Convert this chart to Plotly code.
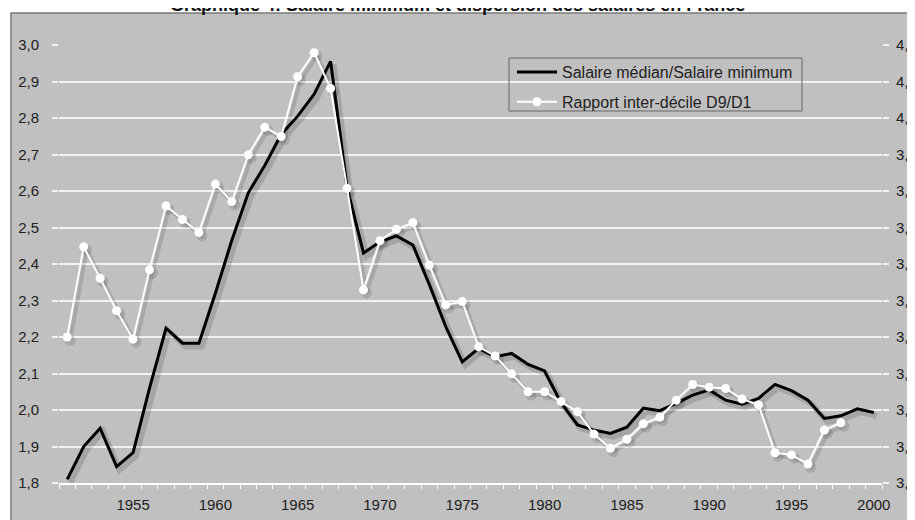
import plotly.graph_objects as go

years_black = list(range(1951, 2001))
median_min = [1.81, 1.90, 1.95, 1.845, 1.883, 2.06, 2.224, 2.183, 2.183, 2.32,
              2.465, 2.595, 2.67, 2.755, 2.805, 2.865, 2.955, 2.61, 2.43, 2.461,
              2.477, 2.452, 2.344, 2.228, 2.132, 2.169, 2.146, 2.155, 2.125, 2.107,
              2.02, 1.959, 1.945, 1.936, 1.953, 2.005, 1.998, 2.018, 2.041, 2.055,
              2.027, 2.016, 2.032, 2.07, 2.053, 2.027, 1.977, 1.984, 2.003, 1.993]

years_white = list(range(1951, 1999))
d9_d1 = [3.40, 3.647, 3.561, 3.472, 3.394, 3.584, 3.759, 3.722, 3.686, 3.819,
         3.771, 3.899, 3.975, 3.949, 4.113, 4.179, 4.081, 3.807, 3.529, 3.664,
         3.695, 3.713, 3.597, 3.488, 3.497, 3.373, 3.348, 3.299, 3.25, 3.25,
         3.223, 3.195, 3.134, 3.095, 3.12, 3.162, 3.18, 3.227, 3.27, 3.262,
         3.259, 3.23, 3.214, 3.083, 3.077, 3.052, 3.145, 3.165]

left_ticks = [1.8, 1.9, 2.0, 2.1, 2.2, 2.3, 2.4, 2.5, 2.6, 2.7, 2.8, 2.9, 3.0]
right_ticks = [3.0, 3.1, 3.2, 3.3, 3.4, 3.5, 3.6, 3.7, 3.8, 3.9, 4.0, 4.1, 4.2]
x_labels = [1955, 1960, 1965, 1970, 1975, 1980, 1985, 1990, 1995, 2000]

title_text = "Graphique 4: Salaire minimum et dispersion des salaires en France"
name_black = "Salaire médian/Salaire minimum"
name_white = "Rapport inter-décile D9/D1"

FONT = "Liberation Sans, Arial, sans-serif"
GREY = "#c0c0c0"
OFF = 8  # the page body margin shifts the figure by this many pixels
W, H = 915 - OFF, 520 - OFF
L, R, T, B = 59 - OFF, 33, 45 - OFF, 37
PW, PH = W - L - R, H - T - B

def px_x(x):  # page pixel -> paper coordinate
    return (x - OFF - L) / PW

def px_y(y):
    return (H - B - (y - OFF)) / PH

def fmt(v):
    return f"{v:.1f}".replace(".", ",")

fig = go.Figure()

# soft drop shadows (derived from the data, slightly offset)
sx, sy = 0.18, -0.009
fig.add_trace(go.Scatter(x=[x + sx for x in years_black], y=[v + sy for v in median_min],
                         mode="lines", line=dict(color="rgba(0,0,0,0.14)", width=6),
                         showlegend=False, hoverinfo="skip", yaxis="y"))
fig.add_trace(go.Scatter(x=[x + sx for x in years_white], y=[v + sy for v in d9_d1],
                         mode="lines+markers", line=dict(color="rgba(0,0,0,0.12)", width=4),
                         marker=dict(size=11, color="rgba(0,0,0,0.12)"),
                         showlegend=False, hoverinfo="skip", yaxis="y2"))

fig.add_trace(go.Scatter(x=years_black, y=median_min, mode="lines", name=name_black,
                         line=dict(color="black", width=3), yaxis="y",
                         legendgroup="a"))
fig.add_trace(go.Scatter(x=years_white, y=d9_d1, mode="lines+markers", name=name_white,
                         line=dict(color="white", width=2),
                         marker=dict(size=9, color="white"), yaxis="y2",
                         legendgroup="b"))

minor_vals = [y - 0.5 for y in years_black] + [years_black[-1] + 0.5]

fig.update_layout(
    width=W, height=H,
    margin=dict(l=L, r=R, t=T, b=B, autoexpand=False),
    paper_bgcolor="white",
    plot_bgcolor=GREY,
    font=dict(family=FONT, size=15, color="#222"),
    showlegend=True,
    legend=dict(x=px_x(512), y=px_y(55),
                xanchor="left", yanchor="top",
                bgcolor="rgba(0,0,0,0)", borderwidth=0,
                font=dict(family=FONT, size=16, color="#222"),
                tracegroupgap=6, itemwidth=40),
    xaxis=dict(range=[1950.5, 2000.5], tickmode="array", tickvals=x_labels,
               ticktext=[str(v) for v in x_labels], ticks="", showgrid=False,
               showline=True, linecolor="white", linewidth=2, zeroline=False,
               ticklabelstandoff=7, automargin=False,
               minor=dict(tickmode="array", tickvals=minor_vals, ticks="outside",
                          ticklen=4, tickcolor="white", tickwidth=1, showgrid=False)),
    yaxis=dict(range=[1.8, 3.0], tickmode="array", tickvals=left_ticks,
               ticktext=[fmt(v) for v in left_ticks], showgrid=True,
               gridcolor="#f2f2f2", gridwidth=2, zeroline=False,
               ticks="outside", ticklen=6, tickcolor="#f2f2f2", tickwidth=2,
               ticklabelstandoff=10, automargin=False),
    yaxis2=dict(range=[3.0, 4.2], tickmode="array", tickvals=right_ticks,
                ticktext=[fmt(v) for v in right_ticks], overlaying="y", side="right",
                showgrid=False, zeroline=False, ticks="outside", ticklen=6,
                tickcolor="#f2f2f2", tickwidth=2, ticklabelstandoff=4,
                automargin=False),
    shapes=[dict(type="rect", xref="paper", yref="paper", layer="below",
                 x0=px_x(11), x1=1.2, y0=-0.2, y1=px_y(13),
                 fillcolor=GREY, line=dict(color="#7a7a7a", width=1.5)),
            dict(type="rect", xref="paper", yref="paper", layer="above",
                 x0=px_x(509), x1=px_x(802), y0=px_y(111), y1=px_y(58),
                 fillcolor="rgba(0,0,0,0)", line=dict(color="#666", width=1))],
    annotations=[dict(text="<b>" + title_text + "</b>", xref="paper", yref="paper",
                      x=px_x(457), y=px_y(16.5),
                      xanchor="center", yanchor="bottom", showarrow=False,
                      font=dict(family=FONT, size=18, color="#111"))],
)

fig.write_html("out.html")
